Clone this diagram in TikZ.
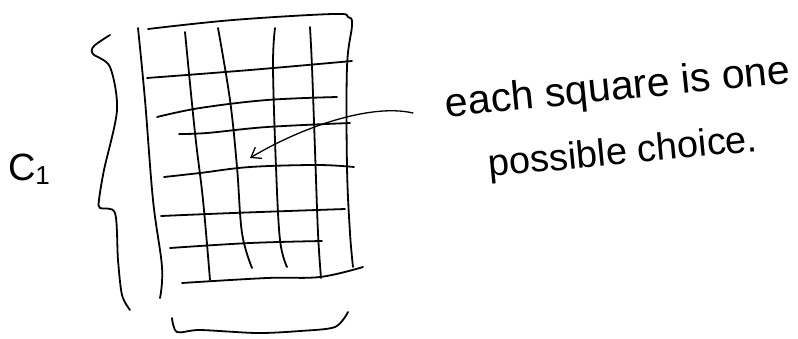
\documentclass[tikz,border=0pt]{standalone}
\usepackage{fontspec}
\setmainfont{Liberation Sans}
\usetikzlibrary{arrows.meta}
\tikzset{
  pen/.style={line width=1.8pt, line cap=round, line join=round, black},
  thinpen/.style={line width=1.3pt, line cap=round, line join=round, black},
  hand/.style={font=\fontsize{38}{44}\selectfont, inner sep=0pt},
  bighand/.style={font=\fontsize{41}{46}\selectfont, inner sep=0pt},
}
\begin{document}
\begin{tikzpicture}[x=1pt, y=-1pt]
\useasboundingbox[fill=white] (0,0) rectangle (798,338);
% outer frame
\draw[pen] plot[smooth, tension=0.6] coordinates {(148,29) (233,20) (333,14) (348,17) (352,25) (347,67) (347,167) (350,233) (353,267)};
\draw[pen] plot[smooth, tension=0.6] coordinates {(138,28) (145,100) (153,200) (162,267) (160,298)};
% vertical lines
\draw[pen] plot[smooth, tension=0.6] coordinates {(185,32) (195,133) (203,200) (210,280)};
\draw[pen] plot[smooth, tension=0.6] coordinates {(218,28) (230,100) (237,167) (242,233) (252,268)};
\draw[pen] plot[smooth, tension=0.6] coordinates {(275,28) (273,67) (276,167) (280,240) (287,267)};
\draw[pen] plot[smooth, tension=0.6] coordinates {(310,27) (312,67) (315,150) (318,233) (321,278)};
% horizontal lines
\draw[pen] plot[smooth, tension=0.6] coordinates {(147,78) (250,70) (352,61)};
\draw[pen] plot[smooth, tension=0.6] coordinates {(157,117) (200,108) (267,100) (337,97)};
\draw[pen] plot[smooth, tension=0.6] coordinates {(179,134) (207,133) (267,127) (350,123)};
\draw[pen] plot[smooth, tension=0.6] coordinates {(164,177) (200,173) (250,167) (317,165) (354,167)};
\draw[pen] plot[smooth, tension=0.6] coordinates {(161,216) (233,213) (345,209)};
\draw[pen] plot[smooth, tension=0.6] coordinates {(170,248) (250,243) (322,241)};
\draw[pen] plot[smooth, tension=0.6] coordinates {(182,283) (267,278) (320,277) (363,267)};
% left brace
\draw[pen] plot[smooth, tension=0.5] coordinates {(110,35) (94,46) (93,54) (110,67) (117,110) (104,170) (99,200) (100,208) (115,213) (118,260) (122,295) (130,310)};
% bottom brace
\draw[pen] plot[smooth, tension=0.5] coordinates {(172,318) (177,332) (200,330) (257,333) (300,331) (335,327) (348,312)};
% label
\node[hand, anchor=base] (lbl) at (29,180) {C\raisebox{-0.2ex}{\fontsize{26}{30}\selectfont 1}};
% text
\node[bighand, anchor=base, rotate=5.7] (t1) at (619,100) {each square is one};
\node[hand, anchor=base, rotate=5.5] (t2) at (624,164) {possible choice.};
% arrow
\coordinate (arrowstart) at (413,113);
\coordinate (arrowtip) at (250,158);
\draw[thinpen, -{Straight Barb[length=9pt, width=13pt, line width=1.3pt]}] (arrowstart) .. controls (370,103) and (300,128) .. (arrowtip);
\end{tikzpicture}
\end{document}
